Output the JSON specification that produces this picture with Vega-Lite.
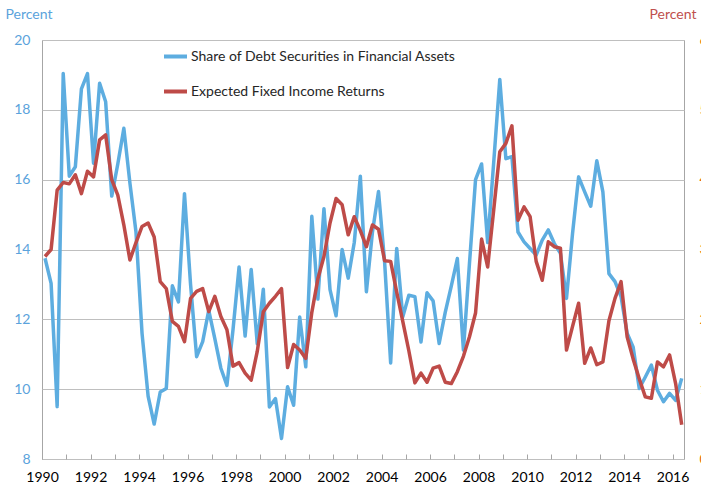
{
  "$schema": "https://vega.github.io/schema/vega-lite/v6.json",
  "width": 642,
  "height": 419,
  "autosize": {"type": "none"},
  "padding": {"left": 42, "top": 40, "right": 17, "bottom": 30},
  "background": "white",
  "config": {
    "font": "Lato",
    "view": {"stroke": "#A6A6A6", "strokeWidth": 1}
  },
  "data": {"values": [
    {"date": 1990.125, "share": 13.75, "ret": 2.9},
    {"date": 1990.375, "share": 13.03, "ret": 3.0},
    {"date": 1990.625, "share": 9.5, "ret": 3.85},
    {"date": 1990.875, "share": 19.04, "ret": 3.96},
    {"date": 1991.125, "share": 16.1, "ret": 3.94},
    {"date": 1991.375, "share": 16.37, "ret": 4.07},
    {"date": 1991.625, "share": 18.6, "ret": 3.8},
    {"date": 1991.875, "share": 19.04, "ret": 4.12},
    {"date": 1992.125, "share": 16.47, "ret": 4.04},
    {"date": 1992.375, "share": 18.76, "ret": 4.57},
    {"date": 1992.625, "share": 18.23, "ret": 4.64},
    {"date": 1992.875, "share": 15.53, "ret": 4.0},
    {"date": 1993.125, "share": 16.45, "ret": 3.78},
    {"date": 1993.375, "share": 17.47, "ret": 3.35},
    {"date": 1993.625, "share": 15.9, "ret": 2.85},
    {"date": 1993.875, "share": 14.5, "ret": 3.1},
    {"date": 1994.125, "share": 11.6, "ret": 3.33},
    {"date": 1994.375, "share": 9.8, "ret": 3.38},
    {"date": 1994.625, "share": 9.0, "ret": 3.18},
    {"date": 1994.875, "share": 9.92, "ret": 2.54},
    {"date": 1995.125, "share": 10.02, "ret": 2.44},
    {"date": 1995.375, "share": 12.96, "ret": 1.97},
    {"date": 1995.625, "share": 12.5, "ret": 1.9},
    {"date": 1995.875, "share": 15.6, "ret": 1.68},
    {"date": 1996.125, "share": 13.0, "ret": 2.3},
    {"date": 1996.375, "share": 10.93, "ret": 2.4},
    {"date": 1996.625, "share": 11.36, "ret": 2.44},
    {"date": 1996.875, "share": 12.26, "ret": 2.11},
    {"date": 1997.125, "share": 11.45, "ret": 2.33},
    {"date": 1997.375, "share": 10.6, "ret": 2.04},
    {"date": 1997.625, "share": 10.11, "ret": 1.85},
    {"date": 1997.875, "share": 11.7, "ret": 1.33},
    {"date": 1998.125, "share": 13.5, "ret": 1.38},
    {"date": 1998.375, "share": 11.52, "ret": 1.23},
    {"date": 1998.625, "share": 13.43, "ret": 1.13},
    {"date": 1998.875, "share": 11.3, "ret": 1.54},
    {"date": 1999.125, "share": 12.86, "ret": 2.11},
    {"date": 1999.375, "share": 9.49, "ret": 2.23},
    {"date": 1999.625, "share": 9.73, "ret": 2.33},
    {"date": 1999.875, "share": 8.59, "ret": 2.44},
    {"date": 2000.125, "share": 10.07, "ret": 1.31},
    {"date": 2000.375, "share": 9.54, "ret": 1.64},
    {"date": 2000.625, "share": 12.07, "ret": 1.56},
    {"date": 2000.875, "share": 10.64, "ret": 1.44},
    {"date": 2001.125, "share": 14.95, "ret": 2.1},
    {"date": 2001.375, "share": 12.58, "ret": 2.58},
    {"date": 2001.625, "share": 15.17, "ret": 2.9},
    {"date": 2001.875, "share": 12.85, "ret": 3.38},
    {"date": 2002.125, "share": 12.1, "ret": 3.73},
    {"date": 2002.375, "share": 14.0, "ret": 3.64},
    {"date": 2002.625, "share": 13.18, "ret": 3.21},
    {"date": 2002.875, "share": 14.2, "ret": 3.47},
    {"date": 2003.125, "share": 16.1, "ret": 3.27},
    {"date": 2003.375, "share": 12.79, "ret": 3.04},
    {"date": 2003.625, "share": 14.5, "ret": 3.35},
    {"date": 2003.875, "share": 15.66, "ret": 3.29},
    {"date": 2004.125, "share": 13.65, "ret": 2.84},
    {"date": 2004.375, "share": 10.75, "ret": 2.83},
    {"date": 2004.625, "share": 14.03, "ret": 2.39},
    {"date": 2004.875, "share": 12.07, "ret": 1.97},
    {"date": 2005.125, "share": 12.69, "ret": 1.55},
    {"date": 2005.375, "share": 12.65, "ret": 1.09},
    {"date": 2005.625, "share": 11.35, "ret": 1.23},
    {"date": 2005.875, "share": 12.76, "ret": 1.1},
    {"date": 2006.125, "share": 12.53, "ret": 1.3},
    {"date": 2006.375, "share": 11.31, "ret": 1.33},
    {"date": 2006.625, "share": 12.2, "ret": 1.1},
    {"date": 2006.875, "share": 12.95, "ret": 1.08},
    {"date": 2007.125, "share": 13.74, "ret": 1.25},
    {"date": 2007.375, "share": 11.12, "ret": 1.47},
    {"date": 2007.625, "share": 13.6, "ret": 1.75},
    {"date": 2007.875, "share": 16.0, "ret": 2.09},
    {"date": 2008.125, "share": 16.45, "ret": 3.15},
    {"date": 2008.375, "share": 14.2, "ret": 2.75},
    {"date": 2008.625, "share": 16.5, "ret": 3.57},
    {"date": 2008.875, "share": 18.87, "ret": 4.4},
    {"date": 2009.125, "share": 16.6, "ret": 4.52},
    {"date": 2009.375, "share": 16.66, "ret": 4.77},
    {"date": 2009.625, "share": 14.5, "ret": 3.42},
    {"date": 2009.875, "share": 14.22, "ret": 3.61},
    {"date": 2010.125, "share": 14.03, "ret": 3.47},
    {"date": 2010.375, "share": 13.84, "ret": 2.83},
    {"date": 2010.625, "share": 14.27, "ret": 2.56},
    {"date": 2010.875, "share": 14.56, "ret": 3.11},
    {"date": 2011.125, "share": 14.17, "ret": 3.04},
    {"date": 2011.375, "share": 13.89, "ret": 3.02},
    {"date": 2011.625, "share": 12.6, "ret": 1.56},
    {"date": 2011.875, "share": 14.46, "ret": 1.9},
    {"date": 2012.125, "share": 16.08, "ret": 2.23},
    {"date": 2012.375, "share": 15.65, "ret": 1.37},
    {"date": 2012.625, "share": 15.24, "ret": 1.59},
    {"date": 2012.875, "share": 16.54, "ret": 1.35},
    {"date": 2013.125, "share": 15.65, "ret": 1.39},
    {"date": 2013.375, "share": 13.31, "ret": 1.98},
    {"date": 2013.625, "share": 13.08, "ret": 2.3},
    {"date": 2013.875, "share": 12.65, "ret": 2.54},
    {"date": 2014.125, "share": 11.6, "ret": 1.75},
    {"date": 2014.375, "share": 11.2, "ret": 1.43},
    {"date": 2014.625, "share": 10.02, "ret": 1.15},
    {"date": 2014.875, "share": 10.35, "ret": 0.89},
    {"date": 2015.125, "share": 10.69, "ret": 0.87},
    {"date": 2015.375, "share": 9.97, "ret": 1.39},
    {"date": 2015.625, "share": 9.64, "ret": 1.32},
    {"date": 2015.875, "share": 9.88, "ret": 1.49},
    {"date": 2016.125, "share": 9.68, "ret": 1.08},
    {"date": 2016.375, "share": 10.31, "ret": 0.49}
  ]},
  "encoding": {
    "x": {
      "field": "date", "type": "quantitative",
      "scale": {"domain": [1990, 2016.47], "nice": false, "zero": false},
      "axis": {
        "title": null,
        "values": [1990,1991,1992,1993,1994,1995,1996,1997,1998,1999,2000,2001,2002,2003,2004,2005,2006,2007,2008,2009,2010,2011,2012,2013,2014,2015,2016],
        "format": "d",
        "labelExpr": "datum.value % 2 === 0 ? datum.label : ''",
        "labelFlush": false,
        "labelOverlap": false,
        "labelFontSize": 14,
        "labelColor": "#000000",
        "labelPadding": 16,
        "tickSize": -5,
        "tickColor": "#A6A6A6",
        "domain": false,
        "grid": false
      }
    }
  },
  "layer": [
    {
      "mark": {"type": "line", "strokeWidth": 3.5, "strokeJoin": "round"},
      "encoding": {
        "y": {
          "field": "share", "type": "quantitative",
          "scale": {"domain": [8, 20], "nice": false, "zero": false},
          "axis": {
            "orient": "left",
            "values": [8, 10, 12, 14, 16, 18, 20],
            "title": "Percent",
            "titleAngle": 0,
            "titleAlign": "left",
            "titleBaseline": "middle",
            "titleX": -37,
            "titleY": -26,
            "titleFontSize": 14,
            "titleFontWeight": "normal",
            "titleColor": "#5BA3DC",
            "labelColor": "#5BA3DC",
            "labelFontSize": 14,
            "labelPadding": 12,
            "ticks": false,
            "domain": false,
            "grid": true,
            "gridColor": "#BFBFBF",
            "gridWidth": 1
          }
        },
        "color": {
          "datum": "Share of Debt Securities in Financial Assets",
          "type": "nominal",
          "scale": {
            "domain": ["Share of Debt Securities in Financial Assets", "Expected Fixed Income Returns"],
            "range": ["#5DADE0", "#BE4B48"]
          },
          "legend": {
            "title": null,
            "orient": "none",
            "legendX": 120,
            "legendY": 3,
            "symbolType": "stroke",
            "symbolStrokeWidth": 4,
            "symbolSize": 529,
            "labelFontSize": 14,
            "labelColor": "#262626",
            "labelLimit": 500,
            "labelOffset": 2,
            "rowPadding": 13
          }
        }
      }
    },
    {
      "mark": {"type": "line", "strokeWidth": 3.5, "strokeJoin": "round"},
      "encoding": {
        "y": {
          "field": "ret", "type": "quantitative",
          "scale": {"domain": [0, 6], "nice": false, "zero": false},
          "axis": {
            "orient": "right",
            "values": [0, 1, 2, 3, 4, 5, 6],
            "title": "Percent",
            "titleAngle": 0,
            "titleAlign": "left",
            "titleBaseline": "middle",
            "titleX": -35,
            "titleY": -26,
            "titleFontSize": 14,
            "titleFontWeight": "normal",
            "titleColor": "#C0504D",
            "labelColor": "#E46C0A",
            "labelFontSize": 14,
            "labelPadding": 15,
            "ticks": false,
            "domain": false,
            "grid": false
          }
        },
        "color": {"datum": "Expected Fixed Income Returns", "type": "nominal"}
      }
    }
  ],
  "resolve": {"scale": {"y": "independent"}}
}
